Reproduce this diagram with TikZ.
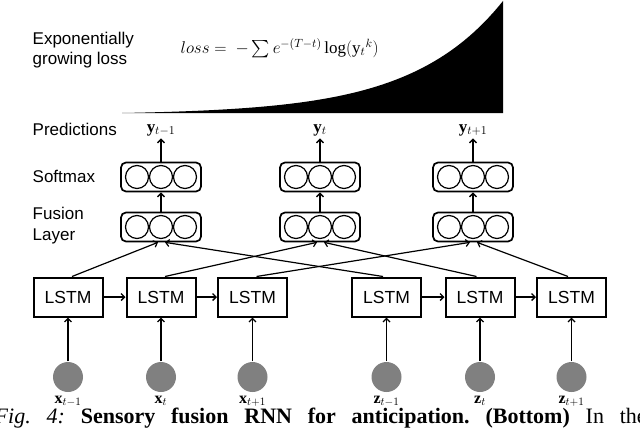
\RequirePackage{fix-cm}
\documentclass[tikz,border=0pt]{standalone}
\usepackage{fontspec}
\setmainfont{Liberation Serif}
\setsansfont{Liberation Sans}
\usepackage{amsmath}
\usepackage{tikz}
\usetikzlibrary{arrows.meta}
\usetikzlibrary{positioning}
\definecolor{sensorgray}{RGB}{128,128,128}
\tikzset{
    lstm/.style={
      rectangle,
      draw=black, line width=2pt,
      minimum width=69pt,
      minimum height=39pt,
      inner sep=2pt,
      text centered,
      font=\sffamily\fontsize{17.5}{20}\selectfont,
    },
    units/.style={
      rectangle,
      rounded corners=5pt,
      draw=black, line width=1.7pt,
      minimum width=80pt,
      minimum height=29pt,
      path picture={
        \foreach \k in {-1,0,1}
          \draw[line width=1.2pt]
          ([xshift=\k*24pt]path picture bounding box.center) circle (11.5pt);
      },
    },
    sensor/.style={
      circle,
      fill=sensorgray,
      minimum size=30pt,
      inner sep=0pt,
    },
    rowlabel/.style={
      anchor=west,
      align=left,
      inner sep=0pt,
      font=\sffamily\fontsize{17}{20}\selectfont,
    },
    varlabel/.style={
      inner sep=2pt,
      font=\fontsize{17}{20}\selectfont,
    },
    inlabel/.style={
      inner sep=1pt,
      font=\fontsize{16}{18}\selectfont,
    },
}

\begin{document}
\begin{tikzpicture}[x=1pt,y=-1pt,->,>={Straight Barb[length=3.5pt,width=7pt]},line width=1.4pt]

    \useasboundingbox (0,0) rectangle (640,429);
    \clip (0,0) rectangle (640,429);

    % loss curve
    \fill[-] plot[domain=122:503, samples=80]
      (\x,{113-1.72*(exp(0.011*(\x-122))-1)}) -- (503,113) -- cycle;

    \node[rowlabel] (EXPO) at (32,50) {Exponentially\\growing loss};
    \node[varlabel, anchor=west] (LOSS) at (178,48)
    {
      $loss = \ -\sum e^{-(T-t)}\log(\mathrm{y}_t{}^{k})$
    };

    \node[rowlabel] (PRED) at (32,129) {Predictions};
    \node[rowlabel] (SOFT) at (32,176) {Softmax};
    \node[rowlabel, font=\sffamily\fontsize{17}{21}\selectfont] (FUSE) at (32,226) {Fusion\\Layer};

    % lstm chains
    \node[lstm] (X1) at (68,297) {LSTM};
    \node[lstm, right of=X1, node distance=93pt] (X2) {LSTM};
    \node[lstm, right of=X2, node distance=91.5pt] (X3) {LSTM};
    \node[lstm, right of=X3, node distance=134pt] (Z1) {LSTM};
    \node[lstm, right of=Z1, node distance=93.5pt] (Z2) {LSTM};
    \node[lstm, right of=Z2, node distance=91.5pt] (Z3) {LSTM};

    % inputs
    \node[sensor, below of=X1, node distance=80pt] (SX1) {};
    \node[sensor, below of=X2, node distance=80pt] (SX2) {};
    \node[sensor, below of=X3, node distance=80pt] (SX3) {};
    \node[sensor, below of=Z1, node distance=80pt] (SZ1) {};
    \node[sensor, below of=Z2, node distance=80pt] (SZ2) {};
    \node[sensor, below of=Z3, node distance=80pt] (SZ3) {};

    \node[inlabel, below of=SX1, node distance=24pt] (LX1) {$\mathbf{x}_{t-1}$};
    \node[inlabel, below of=SX2, node distance=24pt] (LX2) {$\mathbf{x}_{t}$};
    \node[inlabel, below of=SX3, node distance=24pt] (LX3) {$\mathbf{x}_{t+1}$};
    \node[inlabel, below of=SZ1, node distance=24pt] (LZ1) {$\mathbf{z}_{t-1}$};
    \node[inlabel, below of=SZ2, node distance=24pt] (LZ2) {$\mathbf{z}_{t}$};
    \node[inlabel, below of=SZ3, node distance=24pt] (LZ3) {$\mathbf{z}_{t+1}$};

    % fusion and softmax
    \node[units] (FU1) at (161,227) {};
    \node[units] (FU2) at (320,227) {};
    \node[units] (FU3) at (473,227) {};

    \node[units, above of=FU1, node distance=50pt] (SM1) {};
    \node[units, above of=FU2, node distance=50pt] (SM2) {};
    \node[units, above of=FU3, node distance=50pt] (SM3) {};

    \node[varlabel, above of=SM1, node distance=47pt] (Y1) {$\mathbf{y}_{t-1}$};
    \node[varlabel, above of=SM2, node distance=47pt] (Y2) {$\mathbf{y}_{t}$};
    \node[varlabel, above of=SM3, node distance=47pt] (Y3) {$\mathbf{y}_{t+1}$};

    \path
    (SX1) edge (X1)
    (SX2) edge (X2)
    (SX3) edge (X3)
    (SZ1) edge (Z1)
    (SZ2) edge (Z2)
    (SZ3) edge (Z3)

    (X1) edge (X2)
    (X2) edge (X3)
    (Z1) edge (Z2)
    (Z2) edge (Z3)

    (FU1) edge (SM1)
    (FU2) edge (SM2)
    (FU3) edge (SM3)
    (SM1) edge (Y1)
    (SM2) edge (Y2)
    (SM3) edge (Y3);

    \path[line width=1.2pt]
    ([xshift=4pt]X1.north) edge ([xshift=-3pt]FU1.south)
    ([xshift=4pt]X2.north) edge ([xshift=-3pt]FU2.south)
    ([xshift=4pt]X3.north) edge ([xshift=-3pt]FU3.south)
    ([xshift=-3.5pt]Z1.north) edge ([xshift=4pt]FU1.south)
    ([xshift=-3.5pt]Z2.north) edge ([xshift=4pt]FU2.south)
    ([xshift=-3.5pt]Z3.north) edge ([xshift=4pt]FU3.south);

    % caption, cut by the page
    \node[anchor=base west, inner sep=0pt, font=\fontsize{22}{24}\selectfont\frenchspacing] (CAP) at (-6,423)
    {
      \makebox[652pt][s]{\textit{Fig. 4:} \textbf{Sensory fusion RNN for anticipation.} \textbf{(Bottom)} In the}
    };

  \end{tikzpicture}
\end{document}
